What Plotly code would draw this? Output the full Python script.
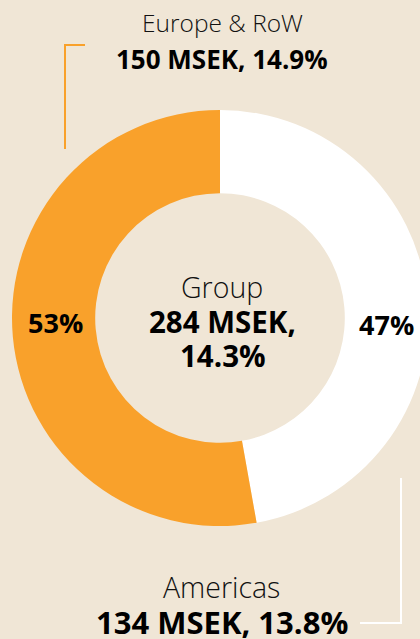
import plotly.graph_objects as go

# ---- data ----
regions = ["Europe & RoW", "Americas"]
values_msek = [150, 134]
margins_pct = [14.9, 13.8]
group_label = "Group"
group_msek = 284
group_margin_pct = 14.3
slice_colors = ["#F9A12B", "#FFFFFF"]

BG = "#F0E6D6"
W, H = 428, 639
FONT = "Open Sans"

def px(x):
    return x / W

def py(y):
    return 1 - y / H

total = sum(values_msek)
pcts = [round(v / total * 100) for v in values_msek]

fig = go.Figure()
# plotly lays the first slice clockwise of 12 o'clock, so feed the slices
# in reverse order to put Europe & RoW on the left
fig.add_trace(go.Pie(
    labels=regions[::-1],
    values=values_msek[::-1],
    sort=False,
    direction="clockwise",
    rotation=0,
    hole=0.6,
    marker=dict(colors=slice_colors[::-1], line=dict(width=0)),
    textinfo="none",
    hoverinfo="skip",
    showlegend=False,
    domain=dict(x=[px(12), px(428)], y=[py(526), py(110)]),
))

def ann(text, x, y, size, weight=400, color="#111111"):
    fig.add_annotation(
        text=text, x=px(x), y=py(y), xref="paper", yref="paper",
        showarrow=False, xanchor="center", yanchor="middle",
        font=dict(family=FONT, size=size, color=color, weight=weight),
    )

# top label (Europe & RoW)
ann(regions[0], 222, 22.5, 24.5, 300)
ann(f"{values_msek[0]} MSEK, {margins_pct[0]}%", 222, 59, 26, 700, "#000000")
# bottom label (Americas)
ann(regions[1], 221, 586.5, 28.5, 300)
ann(f"{values_msek[1]} MSEK, {margins_pct[1]}%", 221.5, 621.5, 31, 700, "#000000")
# center
ann(group_label, 222, 287, 28.5, 300)
ann(f"{group_msek} MSEK,", 222, 322, 29.5, 700, "#000000")
ann(f"{group_margin_pct}%", 223, 355, 29.5, 700, "#000000")
# percent labels
ann(f"{pcts[0]}%", 56, 322.5, 27, 700, "#000000")
ann(f"{pcts[1]}%", 386.5, 324.5, 27, 700, "#000000")

# bracket lines
fig.add_shape(type="path", xref="paper", yref="paper",
              path=f"M {px(85)} {py(45)} L {px(65)} {py(45)} L {px(65)} {py(149)}",
              line=dict(color=slice_colors[0], width=2))
fig.add_shape(type="path", xref="paper", yref="paper",
              path=f"M {px(360)} {py(623)} L {px(401)} {py(623)} L {px(401)} {py(478)}",
              line=dict(color="#FFFFFF", width=2))

fig.update_layout(
    width=W, height=H,
    margin=dict(l=0, r=0, t=0, b=0),
    paper_bgcolor=BG, plot_bgcolor=BG,
    showlegend=False,
)

fig.write_html(
    "out.html",
    config={"displayModeBar": False},
    post_script="document.body.style.margin='0';document.body.style.overflow='hidden';",
)
